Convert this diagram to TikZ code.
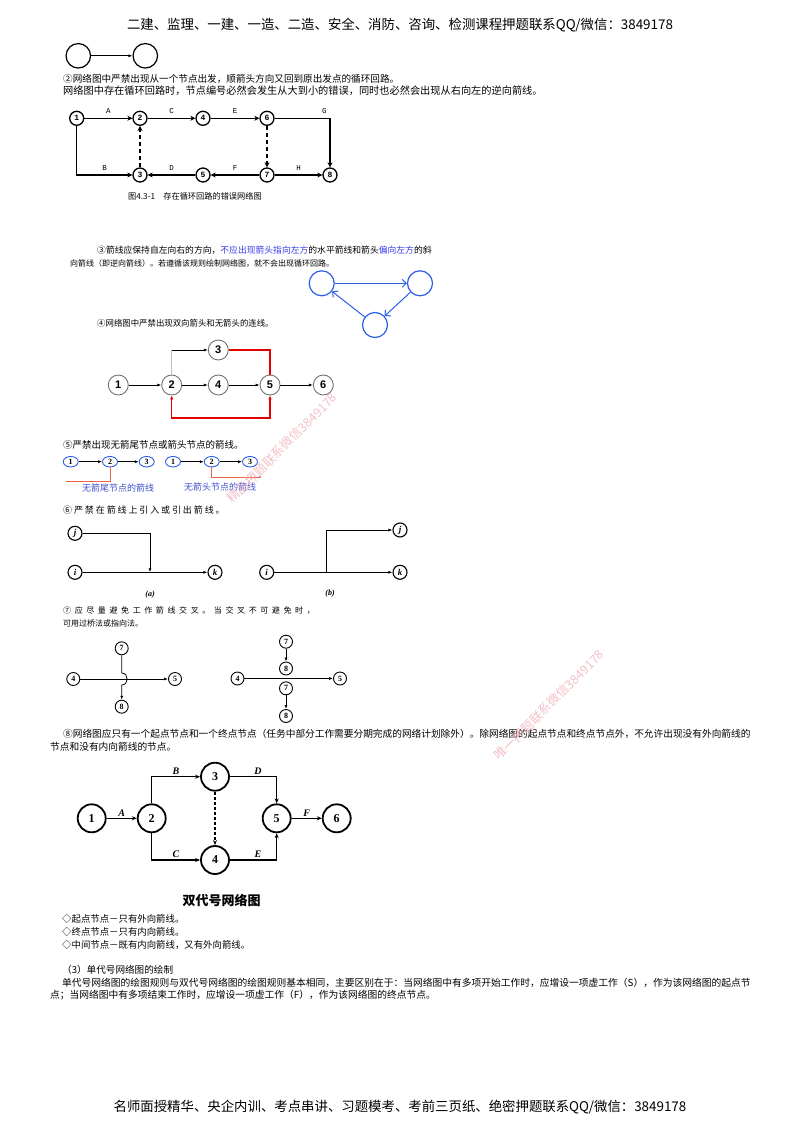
\documentclass[tikz,border=0pt]{standalone}
\usepackage{fontspec}
\setmainfont{Noto Sans CJK SC}
\newfontfamily\lserif{Liberation Serif}
\newfontfamily\lmono{Liberation Mono}
\newfontfamily\lsans{Liberation Sans}
\usepackage{tikz}
\usetikzlibrary{arrows.meta,positioning,shapes.geometric,calc}
\definecolor{linkblue}{RGB}{55,60,235}
\definecolor{circblue}{RGB}{45,95,230}
\definecolor{labelblue}{RGB}{60,80,205}
\definecolor{warnred}{RGB}{240,100,70}
\definecolor{wmark}{RGB}{240,175,185}

\begin{document}
\begin{tikzpicture}[x=1pt,y=-1pt,
  txt/.style={anchor=west, inner sep=0pt, font=\fontsize{9.7}{11}\selectfont},
  banner/.style={inner sep=0pt, font=\fontsize{13.4}{15}\selectfont},
  wmk/.style={inner sep=0pt, text=wmark, rotate=45, font=\fontsize{12.5}{13}\selectfont},
  loopnode/.style={circle, draw, line width=1.3pt, fill=white, minimum size=14pt, inner sep=0pt, font=\lmono\bfseries\fontsize{8}{8}\selectfont},
  looparrow/.style={line width=1.5pt, -{Stealth[length=5pt,width=5pt]}},
  worktag/.style={font=\lmono\fontsize{7.5}{7.5}\selectfont, inner sep=1pt},
  ringnode/.style={circle, draw=circblue, line width=1.2pt, minimum size=25pt},
  ringarrow/.style={draw=circblue, line width=1pt, -{Straight Barb[length=4pt]}},
  graynode/.style={circle, draw=black!55, line width=0.9pt, fill=white, minimum size=20pt, inner sep=0pt, font=\lsans\bfseries\fontsize{11}{11}\selectfont},
  thinarrow/.style={line width=0.7pt, -{Latex[length=4pt,width=3pt]}},
  badline/.style={draw=red!90!black, line width=1.3pt},
  ovalnode/.style={ellipse, draw=circblue, line width=0.9pt, minimum width=15pt, minimum height=10.5pt, inner sep=0pt, font=\lserif\bfseries\fontsize{8}{8}\selectfont},
  warnline/.style={draw=warnred, line width=0.9pt},
  bluetext/.style={text=labelblue, inner sep=0pt, font=\fontsize{9}{10}\selectfont},
  letternode/.style={circle, draw, line width=1.1pt, minimum size=14pt, inner sep=0pt, font=\lserif\bfseries\itshape\fontsize{9}{9}\selectfont},
  crossnode/.style={circle, draw, line width=0.9pt, minimum size=13pt, inner sep=0pt, font=\lserif\bfseries\fontsize{8}{8}\selectfont},
  crossline/.style={line width=0.8pt, -{Latex[length=4pt,width=3pt]}},
  bignode/.style={circle, draw, line width=1.8pt, minimum size=28pt, inner sep=0pt, font=\lserif\bfseries\fontsize{12}{12}\selectfont},
  bigarrow/.style={line width=1.1pt, -{Stealth[length=5pt,width=4pt]}},
  worklabel/.style={font=\lserif\bfseries\itshape\fontsize{10}{10}\selectfont, inner sep=1.5pt}
]
\useasboundingbox (0,0) rectangle (800,1132);

\node[banner] (head) at (400,25) {二建、监理、一建、一造、二造、安全、消防、咨询、检测课程押题联系QQ/微信：3849178};

\node[circle, draw, line width=1.2pt, minimum size=24.5pt] (ta) at (78.3,55.8) {};
\node[circle, draw, line width=1.2pt, minimum size=24.5pt] (tb) at (145.3,55.8) {};
\draw[line width=0.8pt, -{Latex[length=4pt,width=3pt]}] (ta) -- (tb);

\node[txt, font=\fontsize{9.6}{11}\selectfont] (rule2a) at (63,79) {②网络图中严禁出现从一个节点出发，顺箭头方向又回到原出发点的循环回路。};
\node[txt, font=\fontsize{10.2}{11}\selectfont] (rule2b) at (63,91) {网络图中存在循环回路时，节点编号必然会发生从大到小的错误，同时也必然会出现从右向左的逆向箭线。};

\node[loopnode] (c1) at (76.7,118.3) {1};
\node[loopnode] (c2) at (140,118.3) {2};
\node[loopnode] (c4) at (203,118.3) {4};
\node[loopnode] (c6) at (267,118.3) {6};
\node[loopnode] (c3) at (140,175) {3};
\node[loopnode] (c5) at (203,175) {5};
\node[loopnode] (c7) at (267,175) {7};
\node[loopnode] (c8) at (330,175) {8};
\draw[looparrow] (c1) -- node[worktag, above=3pt] {A} (c2);
\draw[looparrow] (c2) -- node[worktag, above=3pt] {C} (c4);
\draw[looparrow] (c4) -- node[worktag, above=3pt] {E} (c6);
\draw[looparrow] (c6) -| node[worktag, above=3pt, pos=0.45] {G} (c8);
\draw[looparrow] (c1) |- node[worktag, above=3pt, pos=0.75] {B} (c3);
\draw[looparrow] (c5) -- node[worktag, above=3pt] {D} (c3);
\draw[looparrow] (c7) -- node[worktag, above=3pt] {F} (c5);
\draw[looparrow] (c7) -- node[worktag, above=3pt] {H} (c8);
\draw[looparrow, dash pattern=on 4pt off 3pt] (c3) -- (c2);
\draw[looparrow, dash pattern=on 4pt off 3pt] (c6) -- (c7);
\node[inner sep=0pt, font=\fontsize{8.2}{9}\selectfont] (cap1) at (195,196) {图4.3-1\quad 存在循环回路的错误网络图};

\node[txt, font=\fontsize{8.8}{10}\selectfont] (rule3a) at (97,250) {③箭线应保持自左向右的方向，\textcolor{linkblue}{不应出现箭头指向左方}的水平箭线和箭头\textcolor{linkblue}{偏向左方}的斜};
\node[txt, font=\fontsize{8}{10}\selectfont] (rule3b) at (70,263.5) {向箭线（即逆向箭线）。若遵循该规则绘制网络图，就不会出现循环回路。};

\node[ringnode] (b1) at (321.7,283.3) {};
\node[ringnode] (b2) at (420,283.3) {};
\node[ringnode] (b3) at (375,325) {};
\draw[ringarrow] (b1) -- (b2);
\draw[ringarrow] (b2) -- (b3);
\draw[ringarrow] (b3) -- (b1);

\node[txt, font=\fontsize{8.4}{10}\selectfont] (rule4) at (97,323.3) {④网络图中严禁出现双向箭头和无箭头的连线。};

\node[graynode] (n1) at (118.3,385) {1};
\node[graynode] (n2) at (171.7,385) {2};
\node[graynode] (n4) at (218.3,385) {4};
\node[graynode] (n5) at (270,385) {5};
\node[graynode] (n6) at (323.3,385) {6};
\node[graynode] (n3) at (218.3,350) {3};
\coordinate (loopbase) at (0,418);
\draw[thinarrow] (n1) -- (n2);
\draw[thinarrow] (n2) -- (n4);
\draw[thinarrow] (n4) -- (n5);
\draw[thinarrow] (n5) -- (n6);
\draw[thinarrow] (n2) |- (n3);
\draw[black!25, line width=0.8pt] (n2) -- (n2 |- n3);
\draw[badline] (n3) -| (n5);
\draw[badline, {Latex[length=4pt,width=3.5pt]}-{Latex[length=4pt,width=3.5pt]}] (n2) -- (n2 |- loopbase) -| (n5);

\node[txt, font=\fontsize{9.5}{11}\selectfont] (rule5) at (63,445) {⑤严禁出现无箭尾节点或箭头节点的箭线。};
\node[ovalnode] (e11) at (70.7,461.7) {1};
\node[ovalnode] (e12) at (110,461.7) {2};
\node[ovalnode] (e13) at (146.7,461.7) {3};
\node[ovalnode] (e21) at (173,461.7) {1};
\node[ovalnode] (e22) at (211.7,461.7) {2};
\node[ovalnode] (e23) at (250,461.7) {3};
\draw[thinarrow] (e11) -- (e12);
\draw[thinarrow] (e12) -- (e13);
\draw[thinarrow] (e21) -- (e22);
\draw[thinarrow] (e22) -- (e23);
\coordinate (notail) at (66,481);
\coordinate (nohead) at (262,477);
\draw[warnline] (e12.south) |- (notail);
\draw[warnline, -{Latex[length=3pt,width=2.5pt]}] (e22.south) |- (nohead);
\node[bluetext] (lab5a) at (118,488) {无箭尾节点的箭线};
\node[bluetext] (lab5b) at (220,487) {无箭头节点的箭线};

\node[txt, font={\fontsize{9}{11}\selectfont\addfontfeature{LetterSpace=21}}] (rule6) at (63,510) {⑥严禁在箭线上引入或引出箭线。};
\node[letternode] (ja) at (75,533.3) {j};
\node[letternode] (ia) at (75,572.3) {i};
\node[letternode] (ka) at (215,572.3) {k};
\coordinate (pa) at (150,572.3);
\draw[crossline] (ja) -| (pa);
\draw[crossline] (ia) -- (ka);
\node[worklabel, font=\lserif\bfseries\itshape\fontsize{8}{8}\selectfont] (capa) at (150,595) {(a)};
\node[letternode] (ib) at (266.7,572.3) {i};
\node[letternode] (jb) at (400,530) {j};
\node[letternode] (kb) at (400,572.3) {k};
\coordinate (pb) at (326.7,572.3);
\draw[crossline] (ib) -- (kb);
\draw[crossline] (pb) |- (jb);
\node[worklabel, font=\lserif\bfseries\itshape\fontsize{8}{8}\selectfont] (capb) at (330,594) {(b)};

\node[txt, font={\fontsize{8}{10}\selectfont\addfontfeature{LetterSpace=45}}] (rule7a) at (63,611) {⑦应尽量避免工作箭线交叉。当交叉不可避免时，};
\node[txt, font=\fontsize{8}{10}\selectfont] (rule7b) at (63,623.5) {可用过桥法或指向法。};
\node[crossnode] (s7) at (121.7,648.3) {7};
\node[crossnode] (s4) at (73.3,679) {4};
\node[crossnode] (s5) at (175,679) {5};
\node[crossnode] (s8) at (121.7,706.7) {8};
\draw[crossline] (s4) -- (s5);
\draw[crossline] (s7) -- (121.7,673) .. controls (129,673) and (129,685) .. (121.7,685) -- (s8);
\node[crossnode] (u7) at (286,641.7) {7};
\node[crossnode] (u8) at (286,668.5) {8};
\node[crossnode] (u4) at (237.5,678.5) {4};
\node[crossnode] (u5) at (340,678.5) {5};
\node[crossnode] (v7) at (286,688.3) {7};
\node[crossnode] (v8) at (286,716) {8};
\draw[crossline] (u7) -- (u8);
\draw[crossline] (u4) -- (u5);
\draw[crossline] (v7) -- (v8);

\node[txt, font=\fontsize{9.68}{11}\selectfont] (rule8a) at (63,734) {⑧网络图应只有一个起点节点和一个终点节点（任务中部分工作需要分期完成的网络计划除外）。除网络图的起点节点和终点节点外，不允许出现没有外向箭线的};
\node[txt, font=\fontsize{9.7}{11}\selectfont] (rule8b) at (50,747) {节点和没有内向箭线的节点。};

\node[bignode] (d1) at (91.7,818.3) {1};
\node[bignode] (d2) at (151.7,818.3) {2};
\node[bignode] (d3) at (215,776.7) {3};
\node[bignode] (d4) at (215,860) {4};
\node[bignode] (d5) at (276.7,818.3) {5};
\node[bignode] (d6) at (336.7,818.3) {6};
\draw[bigarrow] (d1) -- node[worklabel, above] {A} (d2);
\draw[bigarrow] (d2) |- node[worklabel, above, pos=0.75] {B} (d3);
\draw[bigarrow] (d2) |- node[worklabel, above, pos=0.75] {C} (d4);
\draw[bigarrow] (d3) -| node[worklabel, above, pos=0.3] {D} (d5);
\draw[bigarrow] (d4) -| node[worklabel, above, pos=0.3] {E} (d5);
\draw[bigarrow] (d5) -- node[worklabel, above] {F} (d6);
\draw[bigarrow, dash pattern=on 3pt off 2pt] (d3) -- (d4);
\node[inner sep=0pt, font=\bfseries\fontsize{13}{14}\selectfont] (cap8) at (221.7,900) {双代号网络图};

\node[txt, font=\fontsize{9.4}{11}\selectfont] (dot1) at (62,919) {◇起点节点－只有外向箭线。};
\node[txt, font=\fontsize{9.4}{11}\selectfont] (dot2) at (62,932) {◇终点节点－只有内向箭线。};
\node[txt, font=\fontsize{9.4}{11}\selectfont] (dot3) at (62,945) {◇中间节点－既有内向箭线，又有外向箭线。};

\node[txt, font=\fontsize{9.6}{11}\selectfont] (sec3) at (62,970) {（3）单代号网络图的绘制};
\node[txt, font=\fontsize{9.75}{11}\selectfont] (sec3a) at (62,983) {单代号网络图的绘图规则与双代号网络图的绘图规则基本相同，主要区别在于：当网络图中有多项开始工作时，应增设一项虚工作（S），作为该网络图的起点节};
\node[txt, font=\fontsize{9.75}{11}\selectfont] (sec3b) at (50,995.5) {点；当网络图中有多项结束工作时，应增设一项虚工作（F），作为该网络图的终点节点。};

\node[banner] (foot) at (400,1107) {名师面授精华、央企内训、考点串讲、习题模考、考前三页纸、绝密押题联系QQ/微信：3849178};

\node[wmk, text opacity=0.8] (wm1) at (282,448) {精品押题联系微信3849178};
\node[wmk, text opacity=0.8] (wm2) at (549,705) {唯一押题联系微信3849178};
\end{tikzpicture}
\end{document}
